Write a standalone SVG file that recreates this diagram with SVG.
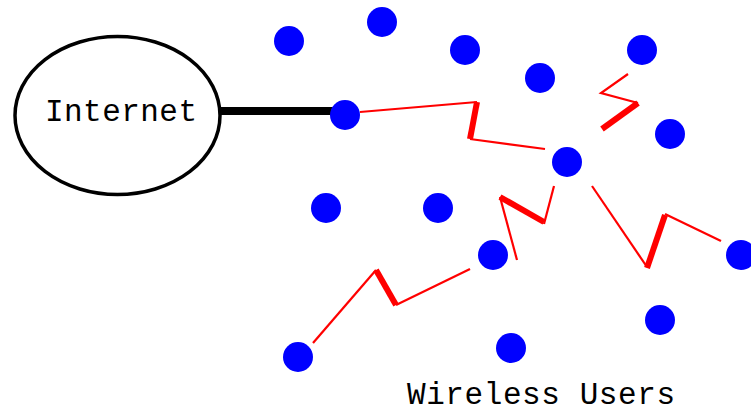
<svg xmlns="http://www.w3.org/2000/svg" width="751" height="413" viewBox="0 0 751 413">
<style>
.dot{fill:#0000ff}
.thin{stroke:#ff0000;stroke-width:2.2;fill:none}
.thick{stroke:#ff0000;stroke-width:6;fill:none}
.lbl{font-family:"Liberation Mono","Courier New",monospace;font-size:31px;fill:#000}
</style>
<rect width="751" height="413" fill="#fff"/>
<g id="connectors">
<line x1="220" y1="111" x2="336" y2="111" stroke="#000" stroke-width="8"/>
<polyline class="thin" points="360,112 477,102"/>
<line class="thick" x1="477" y1="102" x2="470" y2="139"/>
<polyline class="thin" points="470,139 545,149"/>
<polyline class="thin" points="628,74 601,93 638,103"/>
<line class="thick" x1="638" y1="103" x2="602" y2="129" stroke-width="5"/>
<polyline class="thin" points="554,186 544,224"/>
<line class="thick" x1="544" y1="222" x2="500" y2="197" stroke-width="7"/>
<polyline class="thin" points="500,197 517,260"/>
<polyline class="thin" points="592,186 647,267"/>
<line class="thick" x1="647" y1="268" x2="665" y2="215"/>
<polyline class="thin" points="665,214 721,241"/>
<polyline class="thin" points="313,343 376,270"/>
<line class="thick" x1="376" y1="270" x2="396" y2="305"/>
<polyline class="thin" points="396,305 470,269"/>
</g>
<g id="internet">
<ellipse cx="117.5" cy="115.5" rx="102.5" ry="79" fill="#fff" stroke="#000" stroke-width="3.5"/>
<text class="lbl" x="121" y="121" text-anchor="middle" textLength="152">Internet</text>
</g>
<g id="user1"><circle class="dot" cx="289" cy="41" r="15"/></g>
<g id="user2"><circle class="dot" cx="382" cy="22" r="15"/></g>
<g id="user3"><circle class="dot" cx="465" cy="50" r="15"/></g>
<g id="user4"><circle class="dot" cx="540" cy="78" r="15"/></g>
<g id="user5"><circle class="dot" cx="642" cy="50" r="15"/></g>
<g id="user6"><circle class="dot" cx="670" cy="134" r="15"/></g>
<g id="user7"><circle class="dot" cx="345" cy="115" r="15"/></g>
<g id="user8"><circle class="dot" cx="567" cy="162" r="15"/></g>
<g id="user9"><circle class="dot" cx="326" cy="208" r="15"/></g>
<g id="user10"><circle class="dot" cx="438" cy="208" r="15"/></g>
<g id="user11"><circle class="dot" cx="493" cy="255" r="15"/></g>
<g id="user12"><circle class="dot" cx="741" cy="255" r="15"/></g>
<g id="user13"><circle class="dot" cx="660" cy="320" r="15"/></g>
<g id="user14"><circle class="dot" cx="298" cy="357" r="15"/></g>
<g id="user15"><circle class="dot" cx="511" cy="348" r="15"/></g>
<g id="caption"><text class="lbl" x="541" y="404" text-anchor="middle" textLength="268">Wireless Users</text></g>
</svg>
